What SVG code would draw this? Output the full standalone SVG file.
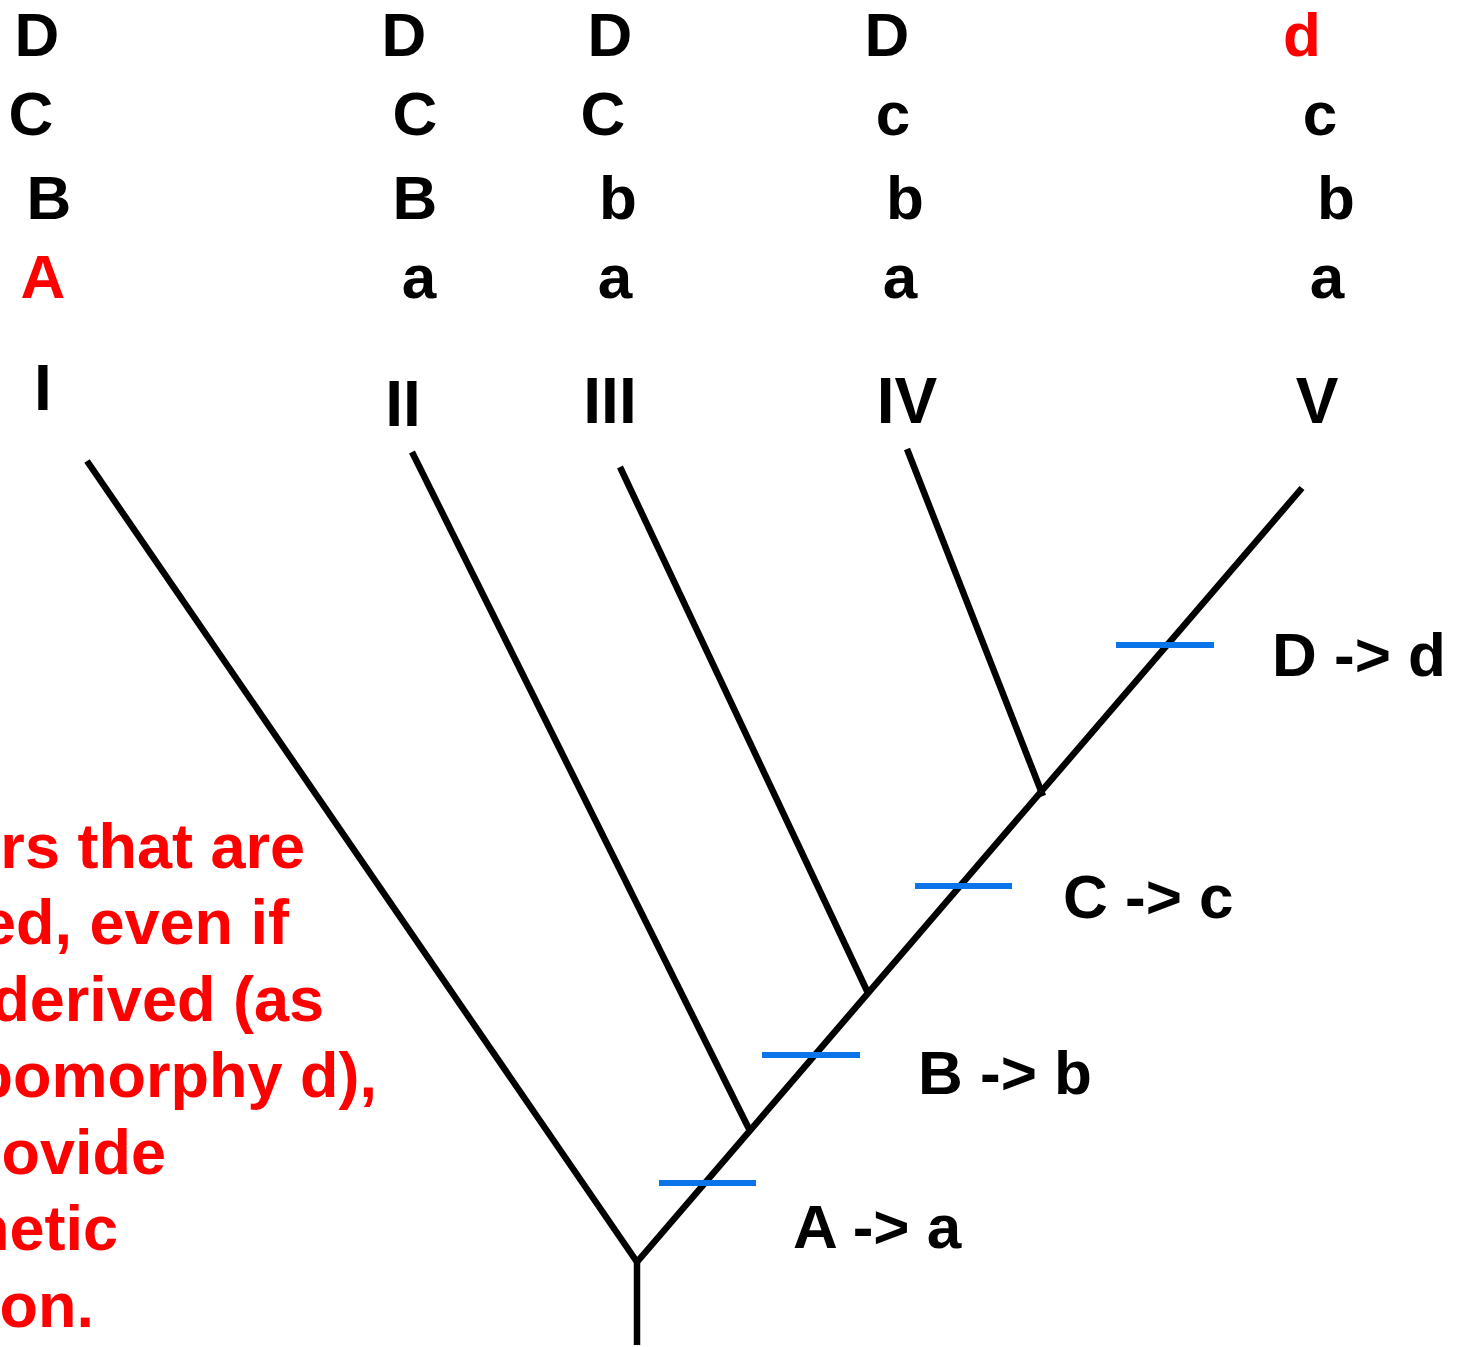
<svg xmlns="http://www.w3.org/2000/svg" width="1460" height="1347" viewBox="0 0 1460 1347">
<style>
.t{font-family:"Liberation Sans",Arial,sans-serif;font-weight:bold;font-size:62px;fill:#000;text-anchor:middle}
.r{fill:#ff0000}
.n{font-size:64px}
.lab{font-family:"Liberation Sans",Arial,sans-serif;font-weight:bold;font-size:62px;fill:#000}
.note{font-family:"Liberation Sans",Arial,sans-serif;font-weight:bold;font-size:63px;fill:#ff0000;text-anchor:end}
.br{stroke:#000;stroke-width:6.5;fill:none;stroke-linecap:butt}
.tick{stroke:#0a74e8;stroke-width:6;fill:none}
</style>
<rect width="1460" height="1347" fill="#fff"/>
<g id="taxon-I">
<text class="t" x="37" y="56">D</text>
<text class="t" x="31" y="135">C</text>
<text class="t" x="49" y="219">B</text>
<text class="t r" x="43" y="298">A</text>
<text class="t n" x="43" y="410">I</text>
</g>
<g id="taxon-II">
<text class="t" x="404" y="56">D</text>
<text class="t" x="415" y="135">C</text>
<text class="t" x="415" y="219">B</text>
<text class="t" x="419" y="298">a</text>
<text class="t n" x="403" y="426">II</text>
</g>
<g id="taxon-III">
<text class="t" x="610" y="56">D</text>
<text class="t" x="603" y="135">C</text>
<text class="t" x="618" y="219">b</text>
<text class="t" x="615" y="298">a</text>
<text class="t n" x="610" y="423">III</text>
</g>
<g id="taxon-IV">
<text class="t" x="887" y="56">D</text>
<text class="t" x="893" y="135">c</text>
<text class="t" x="905" y="219">b</text>
<text class="t" x="900" y="298">a</text>
<text class="t n" x="907" y="423">IV</text>
</g>
<g id="taxon-V">
<text class="t r" x="1302" y="56">d</text>
<text class="t" x="1320" y="135">c</text>
<text class="t" x="1336" y="219">b</text>
<text class="t" x="1327" y="298">a</text>
<text class="t n" x="1317" y="423">V</text>
</g>
<g id="connectors">
<line class="br" x1="637" y1="1345" x2="637" y2="1262"/>
<polyline class="br" points="87,461 637,1262 1302,488"/>
<line class="br" x1="750" y1="1131" x2="412" y2="452"/>
<line class="br" x1="868" y1="993" x2="620" y2="467"/>
<line class="br" x1="1043" y1="796" x2="907" y2="449"/>
</g>
<g id="changes">
<line class="tick" x1="659" y1="1183" x2="756" y2="1183"/>
<line class="tick" x1="762" y1="1055" x2="860" y2="1055"/>
<line class="tick" x1="915" y1="886" x2="1012" y2="886"/>
<line class="tick" x1="1116" y1="645" x2="1214" y2="645"/>
<text class="lab" x="793" y="1248">A -&gt; a</text>
<text class="lab" x="918" y="1094">B -&gt; b</text>
<text class="lab" x="1063" y="918">C -&gt; c</text>
<text class="lab" x="1272" y="676">D -&gt; d</text>
</g>
<g id="note">
<text class="note" x="305" y="868">rs that are</text>
<text class="note" x="289" y="944">ed, even if</text>
<text class="note" x="324" y="1021">derived (as</text>
<text class="note" x="377" y="1097">pomorphy d),</text>
<text class="note" x="166" y="1174">ovide</text>
<text class="note" x="118" y="1250">netic</text>
<text class="note" x="94" y="1327">on.</text>
</g>
</svg>
